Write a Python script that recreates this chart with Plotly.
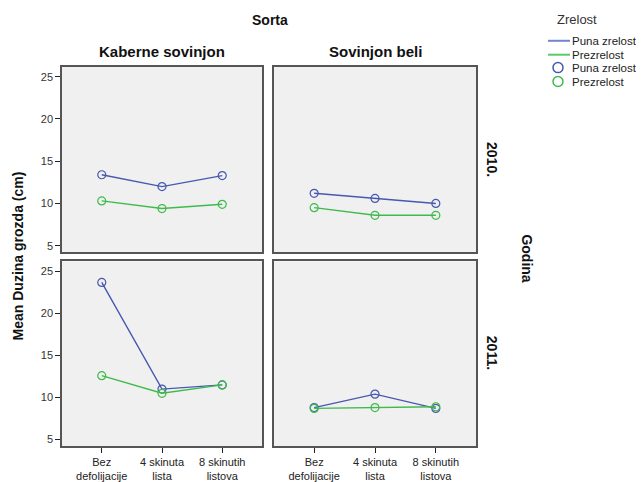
import plotly.graph_objects as go

categories = ["Bez<br>defolijacije", "4 skinuta<br>lista", "8 skinutih<br>listova"]
varieties = ["Kaberne sovinjon", "Sovinjon beli"]
years = ["2010.", "2011."]
series_names = ["Puna zrelost", "Prezrelost"]

# mean values
ks_2010_puna = [13.4, 12.0, 13.3]
ks_2010_prez = [10.3, 9.4, 9.9]
sb_2010_puna = [11.2, 10.6, 10.0]
sb_2010_prez = [9.5, 8.6, 8.6]
ks_2011_puna = [23.7, 11.0, 11.5]
ks_2011_prez = [12.6, 10.5, 11.5]
sb_2011_puna = [8.8, 10.4, 8.7]
sb_2011_prez = [8.7, 8.8, 8.9]

y_ticks = [5, 10, 15, 20, 25]

panels = [
    (ks_2010_puna, ks_2010_prez, "x", "y"),
    (sb_2010_puna, sb_2010_prez, "x2", "y2"),
    (ks_2011_puna, ks_2011_prez, "x3", "y3"),
    (sb_2011_puna, sb_2011_prez, "x4", "y4"),
]

colors = ["#4658B0", "#3FBA4C"]
FONT = "Liberation Sans, Arial, sans-serif"

fig = go.Figure()
xpos = list(range(len(categories)))
for puna, prez, xa, ya in panels:
    for vals, col in ((puna, colors[0]), (prez, colors[1])):
        fig.add_trace(go.Scatter(
            x=xpos, y=vals, xaxis=xa, yaxis=ya, mode="lines+markers",
            line=dict(color=col, width=1.4),
            marker=dict(symbol="circle-open", size=8, color=col, line=dict(width=1.2)),
            showlegend=False, hoverinfo="skip"))

# page body has an 8px margin; compensate so the picture lines up
OFF = 8
W, H = 644 - OFF, 482 - OFF
def px(x):
    return (x - OFF) / W
def py(y):
    return 1 - (y - OFF) / H

xdom = [[px(62), px(262)], [px(274), px(476)]]
ydom = [[py(254), py(67)], [py(449), py(263)]]

axis_common = dict(showline=True, mirror=True, linecolor="#555555", linewidth=1.5,
                   showgrid=False, zeroline=False)
layout = dict(
    width=W, height=H, autosize=False,
    margin=dict(l=0, r=0, t=0, b=0),
    paper_bgcolor="white", plot_bgcolor="#F0F0F0",
    font=dict(family=FONT, color="#222222", size=11),
    showlegend=False,
)
idx = 0
for r in range(2):
    for c in range(2):
        idx += 1
        sx = "" if idx == 1 else str(idx)
        xa = dict(axis_common, domain=xdom[c], range=[-0.66, 2.66],
                  anchor="y" + sx, tickvals=xpos, ticktext=categories,
                  showticklabels=(r == 1), ticks="outside" if r == 1 else "",
                  ticklen=5, tickcolor="#222222", tickwidth=1.2,
                  tickfont=dict(size=11, color="#222222"))
        ya = dict(axis_common, domain=ydom[r], range=[4.2, 26.2],
                  anchor="x" + sx, tickvals=y_ticks,
                  showticklabels=(c == 0), ticks="outside" if c == 0 else "",
                  ticklen=5, tickcolor="#222222", tickwidth=1.2,
                  tickfont=dict(size=11, color="#333333"))
        layout["xaxis" + sx] = xa
        layout["yaxis" + sx] = ya

fig.update_layout(**layout)

ann = []
def text(x, y, t, size=14, bold=True, angle=0, xanchor="center", color="#111111"):
    ann.append(dict(x=px(x), y=py(y), xref="paper", yref="paper", text=("<b>%s</b>" % t) if bold else t,
                    showarrow=False, textangle=angle, xanchor=xanchor, yanchor="middle",
                    font=dict(size=size, family=FONT, color=color)))

text(270, 20, "Sorta", 14)
text(162, 52, varieties[0], 15)
text(375, 52, varieties[1], 15)
text(492, 160, years[0], 14, angle=90)
text(492, 355, years[1], 14, angle=90)
text(527, 260, "Godina", 14, angle=90)
text(18, 258, "Mean Duzina grozda (cm)", 14, angle=-90)

# legend (drawn manually)
text(577, 20, "Zrelost", 13, bold=False, color="#333333")
shapes = []
leg_rows = [41, 55, 68, 82]
for i, yy in enumerate(leg_rows):
    col = colors[i % 2]
    name = series_names[i % 2]
    text(570, yy, name, 11.5, bold=False, xanchor="left", color="#222222")
    if i < 2:
        shapes.append(dict(type="line", xref="paper", yref="paper",
                           x0=px(548), x1=px(570), y0=py(yy), y1=py(yy),
                           line=dict(color=["#6F86D0", "#55CC66"][i], width=2)))
    else:
        shapes.append(dict(type="circle", xref="paper", yref="paper",
                           xsizemode="pixel", ysizemode="pixel",
                           xanchor=px(558), yanchor=py(yy),
                           x0=-5, x1=5, y0=-5, y1=5,
                           line=dict(color=col, width=1.5)))

fig.update_layout(annotations=ann, shapes=shapes)
fig.write_html("out.html")
